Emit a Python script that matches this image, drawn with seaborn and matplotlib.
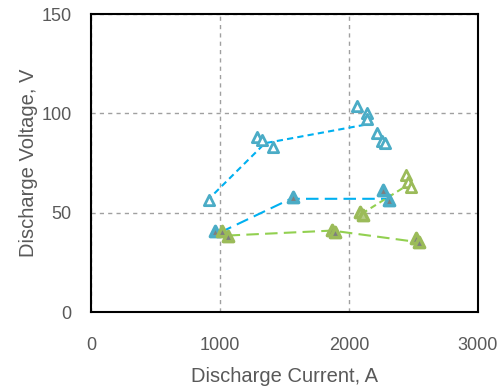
import numpy as np
import pandas as pd
import matplotlib
matplotlib.use("Agg")
import matplotlib.pyplot as plt
import seaborn as sns

# blue, open triangles (upper)
blue_open_x = [913, 1291, 1330, 1415, 2065, 2142, 2142, 2220, 2258, 2281]
blue_open_y = [56.2, 88.1, 86.6, 83.0, 103.8, 100.3, 97.3, 90.2, 86.1, 85.0]
blue_open_line_x = [900, 1350, 2160]
blue_open_line_y = [56.0, 85.0, 94.7]

# blue, filled triangles (lower)
blue_fill_x = [959, 1570, 2266, 2312]
blue_fill_y = [41.0, 57.7, 61.3, 56.2]
blue_fill_line_x = [1000, 1550, 2290]
blue_fill_line_y = [40.0, 57.0, 57.0]

# green, filled triangles (lower)
green_fill_x = [1020, 1060, 1870, 1895, 2520, 2545]
green_fill_y = [41.0, 38.5, 41.5, 40.5, 37.5, 35.0]
green_fill_line_x = [1060, 1870, 2500]
green_fill_line_y = [38.5, 41.0, 35.5]

# green, upper group
green_up_fill_x = [2088, 2111]
green_up_fill_y = [50.2, 48.6]
green_up_open_x = [2444, 2460, 2483]
green_up_open_y = [68.9, 65.4, 62.8]
green_up_line_x = [2100, 2470]
green_up_line_y = [49.5, 64.5]

blue_mk = "#4BACC6"
blue_ln = "#00B0F0"
green_mk = "#9BBB59"
green_ln = "#92D050"
gray_txt = "#595959"

sns.set_style("white")
plt.rcParams['font.family'] = ['Liberation Sans', 'DejaVu Sans']

fig = plt.figure(figsize=(5.02, 3.91), dpi=100)
ax = fig.add_axes([0.181, 0.202, 0.771, 0.762])

# lines
sns.lineplot(x=blue_open_line_x, y=blue_open_line_y, ax=ax, color=blue_ln,
             lw=1.5, linestyle=(0, (3, 2)), sort=False)
sns.lineplot(x=blue_fill_line_x, y=blue_fill_line_y, ax=ax, color=blue_ln,
             lw=1.5, linestyle=(0, (6, 3)), sort=False)
sns.lineplot(x=green_fill_line_x, y=green_fill_line_y, ax=ax, color=green_ln,
             lw=1.5, linestyle=(0, (6, 3)), sort=False)
sns.lineplot(x=green_up_line_x, y=green_up_line_y, ax=ax, color=green_ln,
             lw=1.5, linestyle=(0, (3, 2)), sort=False)

# markers
ms = 55
sns.scatterplot(x=blue_open_x, y=blue_open_y, ax=ax, marker="^", s=ms,
                facecolor="white", edgecolor=blue_mk, linewidth=2, zorder=3)
sns.scatterplot(x=blue_fill_x, y=blue_fill_y, ax=ax, marker="^", s=ms,
                facecolor="#7f7f7f", edgecolor=blue_mk, linewidth=2.5, zorder=3)
sns.scatterplot(x=green_fill_x, y=green_fill_y, ax=ax, marker="^", s=ms,
                facecolor="#7f7f7f", edgecolor=green_mk, linewidth=2.5, zorder=3)
sns.scatterplot(x=green_up_fill_x, y=green_up_fill_y, ax=ax, marker="^", s=ms,
                facecolor="#b5cc88", edgecolor=green_mk, linewidth=2.5, zorder=3)
sns.scatterplot(x=green_up_open_x, y=green_up_open_y, ax=ax, marker="^", s=ms,
                facecolor="white", edgecolor=green_mk, linewidth=2, zorder=3)

ax.set_xlim(0, 3000)
ax.set_ylim(0, 150)
ax.set_xticks([0, 1000, 2000, 3000])
ax.set_yticks([0, 50, 100, 150])
ax.grid(True, color="#a0a0a0", linestyle=(0, (3, 3)), lw=1)
for s in ax.spines.values():
    s.set_color("black")
    s.set_linewidth(1.5)
ax.tick_params(direction="in", length=5, width=1.2, colors="black",
               labelcolor=gray_txt, labelsize=13)
ax.tick_params(axis="x", pad=18)
ax.tick_params(axis="y", pad=14)
ax.set_xlabel("Discharge Current, A", fontsize=14.5, color=gray_txt, labelpad=9)
ax.set_ylabel("Discharge Voltage, V", fontsize=14.5, color=gray_txt, labelpad=2)

fig.savefig("out.png", dpi=100)
